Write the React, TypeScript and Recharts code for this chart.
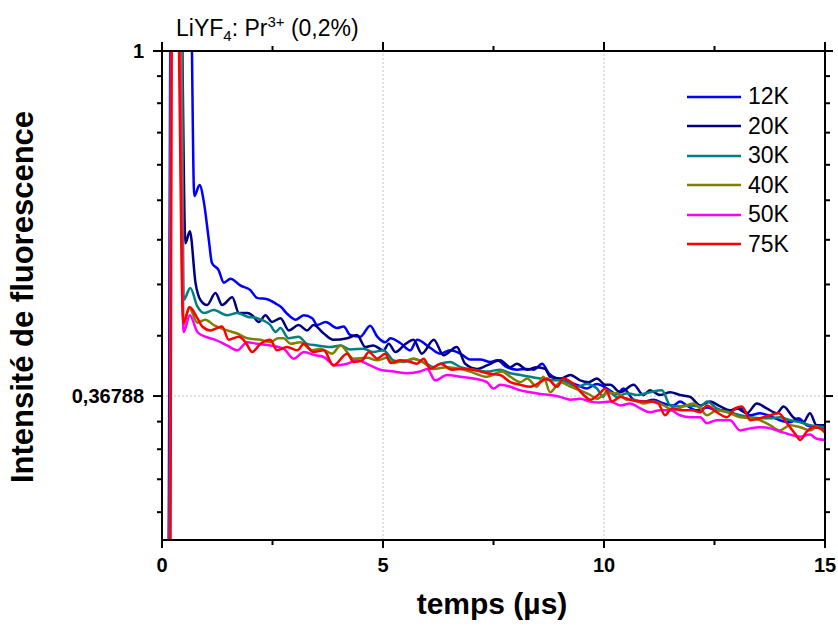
import React from 'react';
import { LineChart, Line, XAxis, YAxis, ReferenceLine, Legend } from 'recharts';

// fluorescence decay of LiYF4:Pr3+ (0.2%), [time in µs, intensity]
const s12K: [number, number][] = [[0,0.2],[0.14,0.2],[0.2,1.3],[0.64,1.3],[0.73,0.657],[0.85,0.678],[0.95,0.644],[1.06,0.578],[1.13,0.541],[1.28,0.530],[1.40,0.511],[1.55,0.517],[1.77,0.507],[2.00,0.500],[2.15,0.489],[2.38,0.487],[2.60,0.480],[2.68,0.477],[2.83,0.467],[3.02,0.459],[3.21,0.465],[3.40,0.461],[3.51,0.452],[3.70,0.456],[3.96,0.448],[4.11,0.450],[4.26,0.439],[4.49,0.437],[4.71,0.451],[4.87,0.437],[5.05,0.430],[5.17,0.435],[5.39,0.429],[5.62,0.420],[5.77,0.433],[6.07,0.423],[6.30,0.416],[6.52,0.420],[6.75,0.416],[6.97,0.409],[7.20,0.409],[7.43,0.406],[7.58,0.408],[7.80,0.400],[8.03,0.397],[8.26,0.398],[8.41,0.397],[8.60,0.404],[8.75,0.393],[8.94,0.387],[9.16,0.384],[9.39,0.380],[9.61,0.376],[9.84,0.381],[10.07,0.376],[10.29,0.370],[10.44,0.376],[10.67,0.364],[10.89,0.362],[11.12,0.364],[11.35,0.360],[11.57,0.358],[11.72,0.362],[11.87,0.358],[12.10,0.353],[12.33,0.356],[12.55,0.353],[12.85,0.353],[13.08,0.355],[13.31,0.348],[13.53,0.350],[13.76,0.347],[13.98,0.343],[14.21,0.341],[14.40,0.345],[14.59,0.338],[14.81,0.336],[15.00,0.335]];

const s20K: [number, number][] = [[0,0.2],[0.15,0.2],[0.21,1.3],[0.42,1.3],[0.53,0.573],[0.63,0.593],[0.76,0.510],[0.87,0.486],[1.02,0.479],[1.21,0.496],[1.36,0.479],[1.59,0.490],[1.74,0.468],[1.93,0.468],[2.04,0.465],[2.19,0.456],[2.34,0.465],[2.49,0.456],[2.68,0.461],[2.87,0.445],[3.09,0.452],[3.28,0.445],[3.43,0.452],[3.66,0.441],[3.88,0.433],[4.19,0.435],[4.41,0.439],[4.60,0.424],[4.78,0.426],[5.01,0.420],[5.13,0.428],[5.28,0.418],[5.51,0.428],[5.69,0.433],[5.88,0.416],[6.15,0.433],[6.37,0.414],[6.67,0.424],[6.86,0.404],[7.13,0.398],[7.35,0.402],[7.65,0.408],[7.88,0.400],[8.03,0.404],[8.26,0.397],[8.48,0.400],[8.67,0.398],[8.78,0.389],[9.01,0.387],[9.24,0.391],[9.46,0.385],[9.65,0.383],[9.84,0.387],[10.03,0.380],[10.14,0.380],[10.37,0.372],[10.67,0.380],[10.89,0.369],[11.04,0.374],[11.27,0.369],[11.50,0.372],[11.72,0.369],[11.95,0.367],[12.18,0.358],[12.40,0.362],[12.63,0.357],[12.85,0.353],[13.00,0.355],[13.23,0.350],[13.46,0.360],[13.68,0.355],[13.91,0.350],[14.06,0.357],[14.28,0.346],[14.51,0.341],[14.66,0.350],[14.81,0.338],[15.00,0.338]];

const s30K: [number, number][] = [[0,0.2],[0.16,0.2],[0.21,1.3],[0.44,1.3],[0.49,0.486],[0.64,0.503],[0.80,0.477],[0.95,0.468],[1.17,0.472],[1.47,0.465],[1.70,0.468],[1.93,0.463],[2.15,0.461],[2.45,0.452],[2.57,0.443],[2.68,0.448],[2.86,0.435],[3.09,0.437],[3.28,0.428],[3.51,0.426],[3.81,0.424],[4.04,0.426],[4.26,0.421],[4.56,0.422],[4.78,0.418],[5.01,0.420],[5.24,0.408],[5.47,0.406],[5.69,0.410],[5.92,0.406],[6.15,0.400],[6.30,0.404],[6.52,0.406],[6.75,0.400],[7.05,0.397],[7.35,0.395],[7.65,0.397],[7.88,0.393],[8.11,0.391],[8.33,0.389],[8.56,0.387],[8.78,0.385],[9.01,0.385],[9.24,0.381],[9.39,0.378],[9.61,0.381],[9.84,0.376],[9.98,0.367],[10.07,0.374],[10.29,0.367],[10.52,0.371],[10.74,0.369],[11.04,0.372],[11.31,0.374],[11.50,0.358],[11.72,0.357],[11.95,0.358],[12.18,0.357],[12.33,0.362],[12.55,0.355],[12.85,0.351],[13.08,0.348],[13.31,0.346],[13.53,0.345],[13.76,0.345],[13.98,0.346],[14.21,0.343],[14.44,0.341],[14.66,0.338],[15.00,0.336]];

const s40K: [number, number][] = [[0,0.2],[0.17,0.2],[0.22,1.3],[0.40,1.3],[0.49,0.452],[0.61,0.476],[0.80,0.455],[0.98,0.459],[1.17,0.452],[1.47,0.445],[1.70,0.441],[1.93,0.435],[2.23,0.433],[2.45,0.430],[2.63,0.435],[2.75,0.435],[2.91,0.428],[3.13,0.430],[3.40,0.420],[3.58,0.422],[3.85,0.416],[4.04,0.426],[4.33,0.410],[4.64,0.411],[4.87,0.408],[5.09,0.411],[5.24,0.405],[5.54,0.408],[5.69,0.410],[5.92,0.405],[6.15,0.398],[6.45,0.400],[6.75,0.398],[6.97,0.395],[7.35,0.389],[7.69,0.395],[7.88,0.389],[8.11,0.383],[8.26,0.387],[8.48,0.378],[8.63,0.389],[8.78,0.372],[9.01,0.383],[9.24,0.378],[9.46,0.374],[9.69,0.369],[9.84,0.365],[10.07,0.371],[10.29,0.371],[10.52,0.364],[10.67,0.364],[10.89,0.360],[11.12,0.362],[11.35,0.358],[11.57,0.353],[11.80,0.357],[12.02,0.360],[12.18,0.355],[12.33,0.348],[12.55,0.353],[12.85,0.350],[13.08,0.346],[13.31,0.345],[13.53,0.343],[13.76,0.338],[13.98,0.333],[14.21,0.338],[14.44,0.336],[14.66,0.333],[14.81,0.336],[15.00,0.331]];

const s50K: [number, number][] = [[0,0.2],[0.17,0.2],[0.22,1.3],[0.36,1.3],[0.49,0.443],[0.63,0.465],[0.80,0.443],[0.98,0.437],[1.21,0.433],[1.47,0.426],[1.70,0.420],[1.93,0.430],[2.15,0.428],[2.45,0.426],[2.75,0.422],[2.98,0.410],[3.21,0.418],[3.47,0.414],[3.66,0.412],[3.92,0.402],[4.19,0.404],[4.41,0.408],[4.71,0.402],[4.94,0.397],[5.24,0.395],[5.54,0.393],[5.84,0.395],[6.00,0.398],[6.18,0.385],[6.45,0.391],[6.75,0.389],[7.05,0.387],[7.35,0.383],[7.50,0.376],[7.65,0.380],[7.88,0.378],[8.11,0.374],[8.33,0.372],[8.56,0.370],[8.78,0.369],[9.01,0.367],[9.24,0.364],[9.46,0.365],[9.69,0.362],[9.91,0.361],[10.14,0.362],[10.37,0.358],[10.59,0.360],[10.82,0.355],[11.04,0.351],[11.27,0.353],[11.50,0.353],[11.72,0.348],[11.95,0.346],[12.18,0.346],[12.33,0.340],[12.55,0.343],[12.85,0.343],[13.08,0.333],[13.31,0.335],[13.53,0.336],[13.76,0.335],[13.98,0.332],[14.21,0.329],[14.44,0.327],[14.66,0.329],[14.81,0.325],[15.00,0.324]];

const s75K: [number, number][] = [[0,0.2],[0.18,0.2],[0.23,1.3],[0.34,1.3],[0.48,0.455],[0.63,0.476],[0.80,0.461],[0.91,0.450],[1.10,0.445],[1.36,0.450],[1.51,0.433],[1.74,0.437],[1.89,0.430],[2.04,0.418],[2.23,0.428],[2.45,0.433],[2.60,0.420],[2.83,0.424],[3.06,0.420],[3.21,0.428],[3.43,0.418],[3.66,0.420],[3.88,0.402],[4.19,0.416],[4.34,0.406],[4.53,0.408],[4.68,0.418],[4.87,0.410],[5.05,0.416],[5.17,0.405],[5.39,0.408],[5.62,0.406],[5.77,0.404],[5.92,0.410],[6.07,0.398],[6.30,0.404],[6.56,0.397],[6.82,0.398],[7.05,0.397],[7.35,0.393],[7.65,0.391],[7.88,0.383],[8.11,0.380],[8.33,0.378],[8.56,0.383],[8.71,0.387],[8.94,0.378],[9.08,0.387],[9.31,0.381],[9.54,0.369],[9.69,0.364],[9.91,0.371],[10.03,0.376],[10.18,0.362],[10.37,0.367],[10.59,0.364],[10.82,0.362],[11.04,0.362],[11.23,0.360],[11.38,0.348],[11.54,0.355],[11.76,0.353],[11.99,0.353],[12.18,0.351],[12.33,0.358],[12.55,0.351],[12.78,0.346],[12.97,0.355],[13.12,0.357],[13.31,0.343],[13.53,0.345],[13.76,0.348],[13.95,0.350],[14.14,0.340],[14.32,0.330],[14.44,0.324],[14.59,0.332],[14.74,0.336],[14.89,0.335],[15.00,0.331]];

const seriesNames = ['12K', '20K', '30K', '40K', '50K', '75K'];
const seriesValues = [s12K, s20K, s30K, s40K, s50K, s75K];
const seriesColors = ['#0000ff', '#000080', '#008080', '#808000', '#ff00ff', '#ff0000'];

const xTicks = [0, 2.5, 5, 7.5, 10, 12.5, 15];
const xMajor = [0, 5, 10, 15];
const yTicks = [1, 0.92976, 0.85953, 0.78929, 0.71905, 0.64882, 0.57858, 0.50835, 0.43811, 0.36788, 0.3416, 0.31533, 0.28905, 0.26277];
const yMajor = [1, 0.36788];
const yMajorLabels = ['1', '0,36788'];

const FONT = 'Arial, "Liberation Sans", Helvetica, sans-serif';
const axisStyle = { stroke: '#000', strokeWidth: 2 };

const isMajor = (list: number[], v: number) => list.some((m) => Math.abs(m - v) < 1e-6);

const BottomTick = ({ x, y, payload }: any) => {
  const major = isMajor(xMajor, payload.value);
  return (
    <g>
      <line x1={x} x2={x} y1={y} y2={y + (major ? 8 : 5)} stroke="#000" strokeWidth={2} />
      {major && (
        <text x={x} y={y + 32} textAnchor="middle" fontFamily={FONT} fontWeight="bold" fontSize={20} fill="#000">
          {payload.value}
        </text>
      )}
    </g>
  );
};

const TopTick = ({ x, y, payload }: any) => {
  const major = isMajor(xMajor, payload.value);
  return <line x1={x} x2={x} y1={y} y2={y - (major ? 9 : 5)} stroke="#000" strokeWidth={2} />;
};

const LeftTick = ({ x, y, payload }: any) => {
  const idx = yMajor.findIndex((m) => Math.abs(m - payload.value) < 1e-6);
  const major = idx >= 0;
  return (
    <g>
      <line x1={x - (major ? 9 : 5)} x2={x} y1={y} y2={y} stroke="#000" strokeWidth={2} />
      {major && (
        <text x={x - 18} y={y + 7} textAnchor="end" fontFamily={FONT} fontWeight="bold" fontSize={20} fill="#000">
          {yMajorLabels[idx]}
        </text>
      )}
    </g>
  );
};

const RightTick = ({ x, y, payload }: any) => {
  const major = isMajor(yMajor, payload.value);
  return <line x1={x} x2={x + (major ? 8 : 5)} y1={y} y2={y} stroke="#000" strokeWidth={2} />;
};

const LegendBox = () => (
  <div style={{ fontFamily: FONT, fontSize: 23, color: '#000' }}>
    {seriesNames.map((name, i) => (
      <div key={name} style={{ display: 'flex', alignItems: 'center', height: 29.5 }}>
        <svg width={54} height={6} style={{ marginRight: 7 }}>
          <line x1={0} x2={54} y1={3} y2={3} stroke={seriesColors[i]} strokeWidth={2.5} />
        </svg>
        <span style={{ lineHeight: 1 }}>{name}</span>
      </div>
    ))}
  </div>
);

export default function App() {
  const data = seriesValues.map((vals) => vals.map(([t, v]) => ({ t, v })));

  return (
    <div style={{ position: 'relative', width: 838, height: 626, fontFamily: FONT, overflow: 'hidden' }}>
      <style>{'body{margin:0}'}</style>
      <LineChart width={838} height={626} margin={{ top: 31, right: 0, bottom: 46, left: 0 }}>
        <XAxis
          xAxisId="b"
          type="number"
          dataKey="t"
          domain={[0, 15]}
          ticks={xTicks}
          interval={0}
          allowDataOverflow
          height={40}
          tickSize={0}
          tickMargin={0}
          tickLine={false}
          axisLine={axisStyle}
          tick={(p: any) => <BottomTick {...p} />}
        />
        <XAxis
          xAxisId="top"
          orientation="top"
          type="number"
          dataKey="t"
          domain={[0, 15]}
          ticks={xTicks}
          interval={0}
          allowDataOverflow
          height={20}
          tickSize={0}
          tickMargin={0}
          tickLine={false}
          axisLine={axisStyle}
          tick={(p: any) => <TopTick {...p} />}
        />
        <YAxis
          yAxisId="l"
          type="number"
          scale="log"
          domain={[0.2424, 1]}
          ticks={yTicks}
          interval={0}
          allowDataOverflow
          width={162}
          tickSize={0}
          tickMargin={0}
          tickLine={false}
          axisLine={axisStyle}
          tick={(p: any) => <LeftTick {...p} />}
        />
        <YAxis
          yAxisId="r"
          orientation="right"
          type="number"
          scale="log"
          domain={[0.2424, 1]}
          ticks={yTicks}
          interval={0}
          allowDataOverflow
          width={13}
          tickSize={0}
          tickMargin={0}
          tickLine={false}
          axisLine={axisStyle}
          tick={(p: any) => <RightTick {...p} />}
        />
        <ReferenceLine xAxisId="b" yAxisId="l" x={5} stroke="#c4c4c4" strokeDasharray="2 2" />
        <ReferenceLine xAxisId="b" yAxisId="l" x={10} stroke="#c4c4c4" strokeDasharray="2 2" />
        <ReferenceLine xAxisId="b" yAxisId="l" y={0.36788} stroke="#c4c4c4" strokeDasharray="2 2" />
        {data.map((d, i) => (
          <Line
            key={seriesNames[i]}
            xAxisId="b"
            yAxisId="l"
            data={d}
            dataKey="v"
            name={seriesNames[i]}
            type="monotone"
            stroke={seriesColors[i]}
            strokeWidth={2.5}
            strokeLinejoin="round"
            dot={false}
            activeDot={false}
            isAnimationActive={false}
          />
        ))}
        <Legend
          layout="horizontal"
          verticalAlign="middle"
          align="center"
          wrapperStyle={{ left: 687, top: 82, width: 130 }}
          content={() => <LegendBox />}
        />
      </LineChart>

      <div style={{ position: 'absolute', left: 176, top: 14, fontSize: 23, whiteSpace: 'nowrap', lineHeight: 1 }}>
        LiYF<sub style={{ fontSize: 15 }}>4</sub>: Pr<sup style={{ fontSize: 15 }}>3+</sup> (0,2%)
      </div>
      <div
        style={{
          position: 'absolute',
          left: 23,
          top: 297,
          transform: 'translate(-50%, -50%) rotate(-90deg)',
          fontSize: 31,
          fontWeight: 'bold',
          whiteSpace: 'nowrap',
        }}
      >
        Intensité de fluorescence
      </div>
      <div
        style={{
          position: 'absolute',
          left: 492,
          top: 604,
          transform: 'translate(-50%, -50%)',
          fontSize: 30,
          fontWeight: 'bold',
          whiteSpace: 'nowrap',
        }}
      >
        temps (µs)
      </div>
    </div>
  );
}
